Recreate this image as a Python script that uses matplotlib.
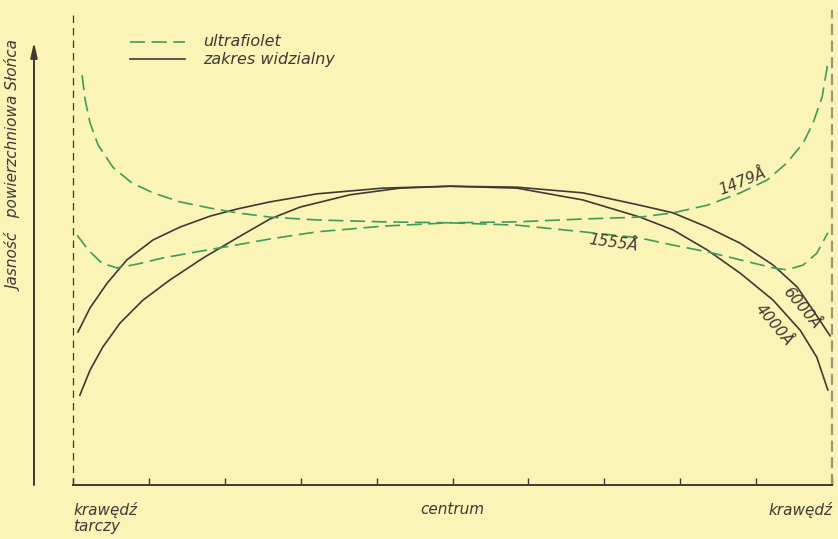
import matplotlib.pyplot as plt
from matplotlib.lines import Line2D

# Distance from disc centre (-1 = left limb, 1 = right limb) and surface brightness (arbitrary units)
x_6000 = [-0.987, -0.955, -0.910, -0.858, -0.789, -0.718, -0.639, -0.568, -0.481, -0.357,
          -0.183, -0.007, 0.170, 0.344, 0.494, 0.581, 0.671, 0.758, 0.845, 0.908, 0.950, 0.995]
y_6000 = [32.2, 37.3, 42.5, 47.4, 51.6, 54.3, 56.6, 58.1, 59.6, 61.3,
          62.5, 62.9, 62.7, 61.5, 58.9, 57.3, 54.3, 50.9, 46.3, 41.7, 36.8, 31.4]

x_4000 = [-0.982, -0.955, -0.921, -0.876, -0.816, -0.744, -0.657, -0.568, -0.481, -0.402,
          -0.270, -0.138, -0.007, 0.170, 0.344, 0.494, 0.581, 0.671, 0.758, 0.845,
          0.916, 0.960, 0.989]
y_4000 = [18.9, 24.2, 29.1, 34.1, 38.9, 43.2, 47.8, 52.0, 56.0, 58.5,
          61.1, 62.5, 62.9, 62.5, 60.0, 56.4, 53.7, 49.5, 44.6, 38.9,
          32.6, 26.9, 20.0]

x_1479 = [-0.976, -0.968, -0.955, -0.934, -0.895, -0.845, -0.789, -0.718, -0.639, -0.568,
          -0.481, -0.357, -0.183, -0.007, 0.170, 0.344, 0.494, 0.581, 0.671, 0.758,
          0.829, 0.881, 0.924, 0.950, 0.974, 0.989]
y_1479 = [86.3, 81.1, 76.2, 71.6, 66.9, 63.6, 61.5, 59.6, 58.3, 57.3,
          56.4, 55.8, 55.4, 55.2, 55.4, 56.0, 56.4, 57.3, 58.9, 61.5,
          64.2, 67.8, 72.0, 76.2, 81.7, 88.8]

x_1555 = [-0.989, -0.960, -0.924, -0.884, -0.831, -0.763, -0.673, -0.586, -0.481, -0.357,
          -0.183, -0.007, 0.170, 0.344, 0.494, 0.581, 0.671, 0.758, 0.845, 0.881,
          0.924, 0.960, 0.989]
y_1555 = [52.6, 49.5, 46.7, 45.7, 46.5, 47.8, 49.1, 50.3, 51.8, 53.3,
          54.5, 55.2, 54.7, 53.3, 52.0, 50.5, 49.1, 47.4, 45.7, 45.3,
          46.3, 48.8, 53.1]

tick_pos = [-1.0, -0.8, -0.6, -0.4, -0.2, 0.0, 0.2, 0.4, 0.6, 0.8, 1.0]
tick_labels = ["krawędź\ntarczy", "", "", "", "", "centrum", "", "", "", "", "krawędź"]

BG = "#faf5b6"
DARK = "#3e3934"
GREEN = "#3d9b5c"

plt.rcParams["font.family"] = "DejaVu Sans"

fig = plt.figure(figsize=(8.38, 5.39), dpi=100)
fig.patch.set_facecolor(BG)
ax = fig.add_axes([73 / 838, 54 / 539, 759 / 838, 475 / 539])
ax.patch.set_visible(False)
ax.set_xlim(-1, 1)
ax.set_ylim(0, 100)

# curves
line = dict(lw=1.2, solid_joinstyle="round", dash_joinstyle="round")
ax.plot(x_6000, y_6000, color=DARK, **line)
ax.plot(x_4000, y_4000, color=DARK, **line)
ax.plot(x_1479, y_1479, color=GREEN, dashes=(9, 4), **line)
ax.plot(x_1555, y_1555, color=GREEN, dashes=(9, 4), **line)

# wavelength labels
lab = dict(fontsize=11, style="italic", color=DARK, ha="center", va="center")
ax.text(0.765, 63.8, "1479Å", rotation=22, **lab)
ax.text(0.423, 51.0, "1555Å", rotation=-8, **lab)
ax.text(0.920, 37.3, "6000Å", rotation=-50, **lab)
ax.text(0.847, 33.7, "4000Å", rotation=-50, **lab)

# disc edges
ax.axvline(-1, ymax=0.99, color=DARK, lw=0.9, dashes=(6, 4), clip_on=False)
ax.axvline(1, ymax=1.0, color="#a09478", lw=1.6, dashes=(5, 2.5), clip_on=False)

# bottom axis
for s in ["top", "left", "right"]:
    ax.spines[s].set_visible(False)
ax.spines["bottom"].set_color(DARK)
ax.spines["bottom"].set_linewidth(1.4)
ax.set_yticks([])
ax.set_xticks(tick_pos)
ax.set_xticklabels(tick_labels, fontsize=11, style="italic", color=DARK, linespacing=1.1)
ax.tick_params(axis="x", direction="in", length=5, width=1.0, color=DARK, pad=12)
labels = ax.get_xticklabels()
labels[0].set_ha("left")
labels[-1].set_ha("right")

# y arrow and label
ax.annotate("", xy=(34 / 838, 1 - 42 / 539), xytext=(34 / 838, 1 - 485 / 539),
            xycoords="figure fraction", textcoords="figure fraction",
            arrowprops=dict(arrowstyle="-|>,head_length=0.9,head_width=0.2",
                            color=DARK, lw=1.4, shrinkA=0, shrinkB=0))
fig.text(15 / 838, 1 - 166 / 539, "Jasność   powierzchniowa Słońca", rotation=90,
         fontsize=11, style="italic", color=DARK, ha="center", va="center")

# legend
fig.add_artist(Line2D([130 / 838, 185 / 838], [1 - 42 / 539, 1 - 42 / 539],
                      color=GREEN, lw=1.2, dashes=(9, 4)))
fig.add_artist(Line2D([130 / 838, 185 / 838], [1 - 59 / 539, 1 - 59 / 539],
                      color=DARK, lw=1.2))
fig.text(203 / 838, 1 - 42 / 539, "ultrafiolet", fontsize=11.5, style="italic",
         color=DARK, va="center")
fig.text(203 / 838, 1 - 60 / 539, "zakres widzialny", fontsize=11.5, style="italic",
         color=DARK, va="center")

fig.savefig("out.png", dpi=100, facecolor=BG)
